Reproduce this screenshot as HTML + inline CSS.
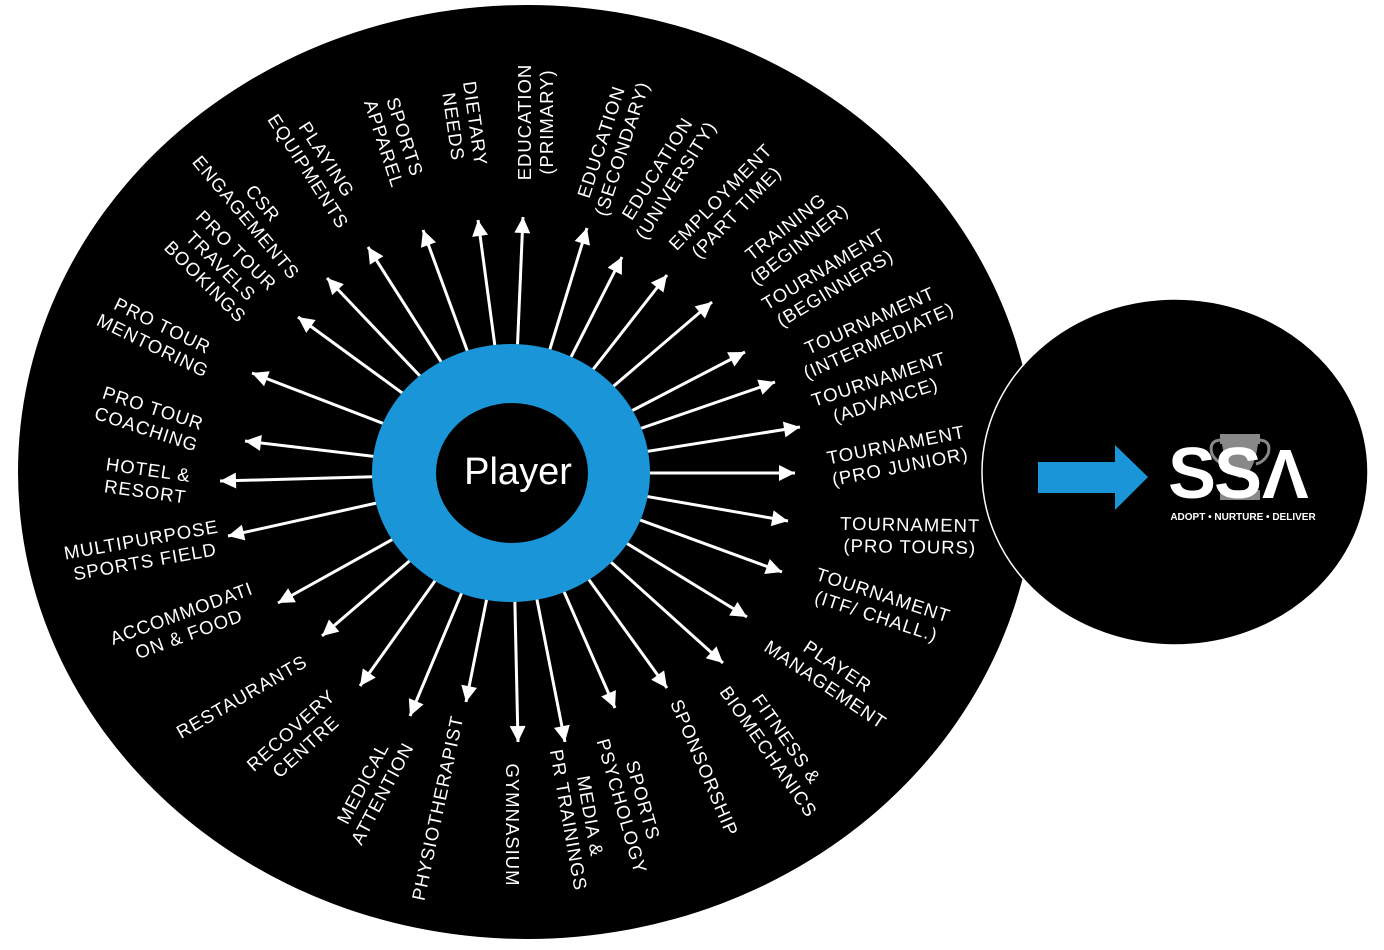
<!DOCTYPE html>
<html><head><meta charset="utf-8"><style>
html,body{margin:0;padding:0;background:#fff;}
svg{display:block;}
.l{font-family:"Liberation Sans",sans-serif;font-size:18.5px;fill:#fff;letter-spacing:1px;text-anchor:middle;}
</style></head><body>
<svg width="1384" height="950" viewBox="0 0 1384 950" xmlns="http://www.w3.org/2000/svg">
<defs>
<marker id="ah" viewBox="0 0 10 10" markerWidth="18" markerHeight="16" refX="10" refY="5" orient="auto" markerUnits="userSpaceOnUse">
<path d="M0,0 L10,5 L0,10 z" fill="#fff"/>
</marker>
</defs>
<ellipse cx="527" cy="472" rx="509" ry="467" fill="#000"/>
<ellipse cx="1175" cy="472" rx="193" ry="173" fill="#000" stroke="#fff" stroke-width="1.5"/>
<g stroke="#fff" stroke-width="3" marker-end="url(#ah)">
<line x1="512" y1="473" x2="368" y2="247"/>
<line x1="512" y1="473" x2="327" y2="278"/>
<line x1="512" y1="473" x2="298" y2="317"/>
<line x1="512" y1="473" x2="252" y2="373"/>
<line x1="512" y1="473" x2="245" y2="441"/>
<line x1="512" y1="473" x2="220" y2="481"/>
<line x1="512" y1="473" x2="228" y2="536"/>
<line x1="512" y1="473" x2="278" y2="603"/>
<line x1="512" y1="473" x2="322" y2="636"/>
<line x1="512" y1="473" x2="360" y2="686"/>
<line x1="512" y1="473" x2="410" y2="716"/>
<line x1="512" y1="473" x2="466" y2="702"/>
<line x1="512" y1="473" x2="518" y2="742"/>
<line x1="512" y1="473" x2="565" y2="742"/>
<line x1="512" y1="473" x2="615" y2="708"/>
<line x1="512" y1="473" x2="667" y2="688"/>
<line x1="512" y1="473" x2="723" y2="663"/>
<line x1="512" y1="473" x2="747" y2="617"/>
<line x1="512" y1="473" x2="782" y2="572"/>
<line x1="512" y1="473" x2="788" y2="521"/>
<line x1="512" y1="473" x2="795" y2="473"/>
<line x1="512" y1="473" x2="800" y2="427"/>
<line x1="512" y1="473" x2="775" y2="382"/>
<line x1="512" y1="473" x2="745" y2="352"/>
<line x1="512" y1="473" x2="712" y2="302"/>
<line x1="512" y1="473" x2="667" y2="275"/>
<line x1="512" y1="473" x2="622" y2="257"/>
<line x1="512" y1="473" x2="587" y2="228"/>
<line x1="512" y1="473" x2="523" y2="217"/>
<line x1="512" y1="473" x2="478" y2="220"/>
<line x1="512" y1="473" x2="423" y2="230"/>
</g>
<ellipse cx="511" cy="473" rx="139" ry="129" fill="#1a96d8"/>
<ellipse cx="512" cy="473" rx="76" ry="70" fill="#000"/>
<text x="518" y="484" font-family="Liberation Sans,sans-serif" font-size="38" fill="#fff" text-anchor="middle">Player</text>

<g class="l">
<text transform="translate(318,165) rotate(57)"><tspan x="0" y="-4">PLAYING</tspan><tspan x="0" y="18">EQUIPMENTS</tspan></text>
<text transform="translate(395,140) rotate(72)"><tspan x="0" y="-4">SPORTS</tspan><tspan x="0" y="18">APPAREL</tspan></text>
<text transform="translate(465,125) rotate(82)"><tspan x="0" y="-4">DIETARY</tspan><tspan x="0" y="18">NEEDS</tspan></text>
<text transform="translate(535,122) rotate(-90)"><tspan x="0" y="-4">EDUCATION</tspan><tspan x="0" y="18">(PRIMARY)</tspan></text>
<text transform="translate(611,145) rotate(-72)"><tspan x="0" y="-4">EDUCATION</tspan><tspan x="0" y="18">(SECONDARY)</tspan></text>
<text transform="translate(666,174) rotate(-58)"><tspan x="0" y="-4">EDUCATION</tspan><tspan x="0" y="18">(UNIVERSITY)</tspan></text>
<text transform="translate(728,204) rotate(-46)"><tspan x="0" y="-4">EMPLOYMENT</tspan><tspan x="0" y="18">(PART TIME)</tspan></text>
<text transform="translate(792,235) rotate(-38)"><tspan x="0" y="-4">TRAINING</tspan><tspan x="0" y="18">(BEGINNER)</tspan></text>
<text transform="translate(829,278) rotate(-31)"><tspan x="0" y="-4">TOURNAMENT</tspan><tspan x="0" y="18">(BEGINNERS)</tspan></text>
<text transform="translate(874,330) rotate(-24)"><tspan x="0" y="-4">TOURNAMENT</tspan><tspan x="0" y="18">(INTERMEDIATE)</tspan></text>
<text transform="translate(882,389) rotate(-18)"><tspan x="0" y="-4">TOURNAMENT</tspan><tspan x="0" y="18">(ADVANCE)</tspan></text>
<text transform="translate(898,455) rotate(-11)"><tspan x="0" y="-4">TOURNAMENT</tspan><tspan x="0" y="18">(PRO JUNIOR)</tspan></text>
<text transform="translate(910,535) rotate(1)"><tspan x="0" y="-4">TOURNAMENT</tspan><tspan x="0" y="18">(PRO TOURS)</tspan></text>
<text transform="translate(880,605) rotate(18)"><tspan x="0" y="-4">TOURNAMENT</tspan><tspan x="0" y="18">(ITF/ CHALL.)</tspan></text>
<text transform="translate(832,675) rotate(34)"><tspan x="0" y="-4">PLAYER</tspan><tspan x="0" y="18">MANAGEMENT</tspan></text>
<text transform="translate(778,745) rotate(55)"><tspan x="0" y="-4">FITNESS &amp;</tspan><tspan x="0" y="18">BIOMECHANICS</tspan></text>
<text transform="translate(704,768) rotate(67)"><tspan x="0" y="6">SPONSORSHIP</tspan></text>
<text transform="translate(633,803) rotate(74)"><tspan x="0" y="-4">SPORTS</tspan><tspan x="0" y="18">PSYCHOLOGY</tspan></text>
<text transform="translate(580,818) rotate(80)"><tspan x="0" y="-4">MEDIA &amp;</tspan><tspan x="0" y="18">PR TRAININGS</tspan></text>
<text transform="translate(512,825) rotate(90)"><tspan x="0" y="6">GYMNASIUM</tspan></text>
<text transform="translate(438,808) rotate(-78)"><tspan x="0" y="6">PHYSIOTHERAPIST</tspan></text>
<text transform="translate(372,788) rotate(-62)"><tspan x="0" y="-4">MEDICAL</tspan><tspan x="0" y="18">ATTENTION</tspan></text>
<text transform="translate(298,738) rotate(-42)"><tspan x="0" y="-4">RECOVERY</tspan><tspan x="0" y="18">CENTRE</tspan></text>
<text transform="translate(242,697) rotate(-30)"><tspan x="0" y="6">RESTAURANTS</tspan></text>
<text transform="translate(185,623) rotate(-20)"><tspan x="0" y="-4">ACCOMMODATI</tspan><tspan x="0" y="18">ON &amp; FOOD</tspan></text>
<text transform="translate(143,550) rotate(-10)"><tspan x="0" y="-4">MULTIPURPOSE</tspan><tspan x="0" y="18">SPORTS FIELD</tspan></text>
<text transform="translate(147,480) rotate(8)"><tspan x="0" y="-4">HOTEL &amp;</tspan><tspan x="0" y="18">RESORT</tspan></text>
<text transform="translate(150,418) rotate(18)"><tspan x="0" y="-4">PRO TOUR</tspan><tspan x="0" y="18">COACHING</tspan></text>
<text transform="translate(158,335) rotate(26)"><tspan x="0" y="-4">PRO TOUR</tspan><tspan x="0" y="18">MENTORING</tspan></text>
<text transform="translate(222,265) rotate(45)"><tspan x="0" y="-14">PRO TOUR</tspan><tspan x="0" y="8">TRAVELS</tspan><tspan x="0" y="30">BOOKINGS</tspan></text>
<text transform="translate(255,210) rotate(50)"><tspan x="0" y="-4">CSR</tspan><tspan x="0" y="18">ENGAGEMENTS</tspan></text>
</g>

<polygon points="1038,462 1115,462 1115,445 1148,477 1115,510 1115,493 1038,493" fill="#1a96d8"/>
<g fill="#888">
<rect x="1220" y="434" width="40" height="10"/>
<path d="M1222,444 h36 q-4,30 -18,34 q-14,-4 -18,-34z"/>
<rect x="1220" y="490" width="40" height="10"/>
<path d="M1222,440 q-14,0 -10,14 q4,8 12,10" fill="none" stroke="#888" stroke-width="3"/>
<path d="M1258,440 q14,0 10,14 q-4,8 -12,10" fill="none" stroke="#888" stroke-width="3"/>
</g>
<text x="1168" y="498" font-family="Liberation Sans,sans-serif" font-weight="bold" font-size="72" fill="#fff" letter-spacing="-2">SS</text>
<text x="1262" y="498" font-family="Liberation Sans,sans-serif" font-weight="bold" font-size="70" fill="#fff">Λ</text>
<text x="1243" y="520" font-family="Liberation Sans,sans-serif" font-weight="bold" font-size="10" fill="#fff" text-anchor="middle">ADOPT • NURTURE • DELIVER</text>
</svg>
</body></html>
